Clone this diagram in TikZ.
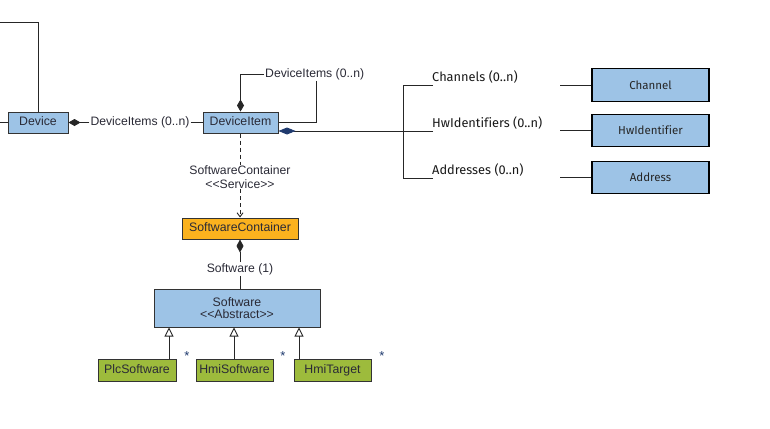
\documentclass[tikz,border=0pt]{standalone}
\usepackage{fontspec}
\setmainfont{Liberation Sans}
\newfontfamily\rfont[Ligatures=NoCommon]{Fira Sans}
\usetikzlibrary{arrows.meta,calc}
\definecolor{boxblue}{HTML}{9DC3E6}
\definecolor{boxorange}{HTML}{FBB21E}
\definecolor{boxgreen}{HTML}{9DBB3C}
\definecolor{txt}{HTML}{2A2A36}
\definecolor{navy}{HTML}{1F3A6E}
\begin{document}
\begin{tikzpicture}[x=1pt,y=-1pt,
  lbox/.style={draw=black!80,line width=1pt,inner sep=0pt,font=\fontsize{12.3}{13.5}\selectfont,text=txt,text height=8.6pt,text depth=2.4pt},
  rbox/.style={draw=black,line width=1.8pt,fill=boxblue,inner sep=0pt,minimum width=117pt,font=\rfont\fontsize{11.5}{13}\selectfont,text=black!85},
  lab/.style={inner sep=1pt,font=\fontsize{12.2}{13.5}\selectfont,text=txt,align=center},
  rlab/.style={inner sep=1pt,font=\rfont\fontsize{12.8}{14}\selectfont,text=black!90,anchor=south west},
  conn/.style={draw=black!85,line width=0.9pt},
  dia/.style={-{Diamond[length=12pt,width=7pt]}},
  inh/.style={-{Triangle[open,length=9pt,width=9pt,fill=white]}},
  star/.style={inner sep=0pt,font=\fontsize{13}{13}\selectfont,text=navy}
]
\useasboundingbox (0,0) rectangle (770,428);
% boxes
\node[lbox,fill=boxblue,minimum width=60pt,minimum height=21pt] (dev) at (38,122.5) {Device};
\node[lbox,fill=boxblue,minimum width=75pt,minimum height=21pt] (di) at (240.5,122.5) {DeviceItem};
\node[lbox,fill=boxorange,minimum width=116pt,minimum height=21pt] (sc) at (240,228.5) {SoftwareContainer};
\node[lbox,fill=boxblue,minimum width=166pt,minimum height=38pt,align=center,text height=,text depth=] (sw) at (237,308) {Software\\[-1pt]<{}<Abstract>{}>};
\node[lbox,fill=boxgreen,minimum width=78pt,minimum height=22pt] (plc) at (137,370) {PlcSoftware};
\node[lbox,fill=boxgreen,minimum width=77pt,minimum height=22pt] (hmi) at (234.5,370) {HmiSoftware};
\node[lbox,fill=boxgreen,minimum width=77pt,minimum height=22pt] (hmt) at (332.5,370) {HmiTarget};
\node[rbox,minimum height=33pt] (ch) at (650.5,85) {Channel};
\node[rbox,minimum height=32pt] (hw) at (650.5,130.5) {HwIdentifier};
\node[rbox,minimum height=32pt] (ad) at (650.5,177.5) {Address};
% labels
\node[lab] (l1) at (140,122.5) {DeviceItems (0..n)};
\node[lab,anchor=west] (l2) at (264,74) {DeviceItems (0..n)};
\node[lab] (l3) at (240,177) {SoftwareContainer\\<{}<Service>{}>};
\node[lab] (l4) at (240,269) {Software (1)};
\node[rlab] (r1) at (431,85) {Channels (0..n)};
\node[rlab] (r2) at (431,131) {HwIdentifiers (0..n)};
\node[rlab] (r3) at (431,178) {Addresses (0..n)};
\node[star] (s1) at (187,356) {*};
\node[star] (s2) at (283,356) {*};
\node[star] (s3) at (382,356) {*};
% coordinates
\coordinate (tl) at (0,22);
\coordinate (tc) at (38,22);
\coordinate (lm) at (0,122.5);
\coordinate (loopx) at (316,0);
\coordinate (bx) at (403,0);
\coordinate (rx) at (433,0);
\coordinate (cx) at (560,0);
\coordinate (i1) at (169,0);
\coordinate (i2) at (234,0);
\coordinate (i3) at (299,0);
% connectors
\draw[conn] (tl) -- (tc) -- (dev.north);
\draw[conn] (lm) -- (dev.west);
\draw[conn,dia] (l1.west) -- (dev.east);
\draw[conn] (l1.east) -- (di.west);
\draw[conn,dia] (l2.west) -| (di.north);
\draw[conn] (l2.south -| loopx) |- (di.east);
\draw[conn,-{Diamond[length=17pt,width=7pt,fill=navy,color=navy]}] (rx |- r2.south) -- ($(di.south east)+(0,-2.5)$);
\draw[conn] (rx |- r1.south) -- (bx |- r1.south) -- (bx |- r3.south) -- (rx |- r3.south);
\draw[conn] (cx |- ch.west) -- (ch.west);
\draw[conn] (cx |- hw.west) -- (hw.west);
\draw[conn] (cx |- ad.west) -- (ad.west);
\draw[conn,dash pattern=on 4pt off 3pt] (di.south) -- (di.south |- l3.north);
\draw[conn,dash pattern=on 4pt off 3pt,-{Straight Barb[length=4pt,width=6pt]}] (l3.south) -- (l3.south |- sc.north);
\draw[conn,-{Diamond[length=13pt,width=7pt]}] (l4.north) -- (l4.north |- sc.south);
\draw[conn] (l4.south) -- (l4.south |- sw.north);
\draw[conn,inh] (plc.north -| i1) -- (sw.south -| i1);
\draw[conn,inh] (hmi.north -| i2) -- (sw.south -| i2);
\draw[conn,inh] (hmt.north -| i3) -- (sw.south -| i3);
\end{tikzpicture}
\end{document}
